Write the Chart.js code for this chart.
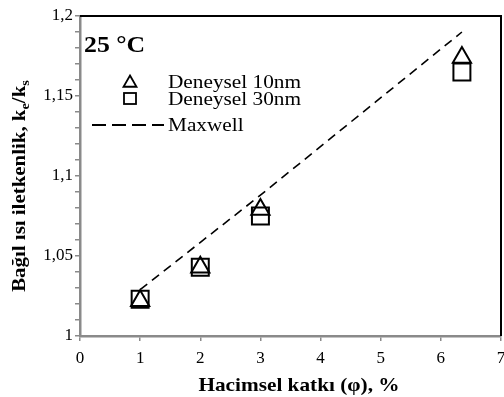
<!DOCTYPE html>
<html><head><meta charset="utf-8">
<script src="https://cdn.jsdelivr.net/npm/chart.js@4/dist/chart.umd.min.js"></script>
<style>html,body{margin:0;padding:0;background:#fff}#wrap{width:504px;height:397px}</style>
</head><body><div id="wrap"><canvas id="c"></canvas></div>
<script>
const xTickLabels = ['0','1','2','3','4','5','6','7'];
const yTickLabels = ['1','1,05','1,1','1,15','1,2'];
const phi10 = [1, 2, 3, 6.35];
const k10 = [1.022, 1.043, 1.079, 1.174];
const phi30 = [1, 2, 3, 6.35];
const k30 = [1.023, 1.043, 1.075, 1.165];
const phiMax = [1, 3, 6.35];
const kMax = [1.029, 1.088, 1.19];
const seriesNames = ['Deneysel 10nm', 'Deneysel 30nm', 'Maxwell'];
const panelLabel = '25 °C';

const FONT = '"Liberation Serif","Times New Roman",serif';
const AXIS = '#8a8a8a';
const SX = 1.12;
const pts = (xs, ys) => xs.map((x, i) => ({x, y: ys[i]}));

function stretchText(ctx, txt, x, y, align) {
  const w = ctx.measureText(txt).width * SX;
  let x0 = x;
  if (align === 'center') x0 = x - w / 2;
  ctx.save();
  ctx.translate(x0, y);
  ctx.scale(SX, 1);
  ctx.textAlign = 'left';
  ctx.fillText(txt, 0, 0);
  ctx.restore();
}

const overlay = {
  id: 'overlay',
  afterDraw(chart) {
    const ctx = chart.ctx, a = chart.chartArea;
    ctx.save();
    ctx.strokeStyle = '#000'; ctx.lineWidth = 2;
    ctx.beginPath();
    ctx.moveTo(a.left, a.top); ctx.lineTo(a.right, a.top); ctx.lineTo(a.right, a.bottom);
    ctx.stroke();
    ctx.fillStyle = '#000';
    ctx.textBaseline = 'alphabetic';
    ctx.font = 'bold 23px ' + FONT;
    stretchText(ctx, panelLabel, 84, 52, 'left');
    ctx.font = '19px ' + FONT;
    ctx.lineWidth = 1.8;
    const mx = 130;
    const r = 7.5, ty = 83;
    ctx.beginPath();
    ctx.moveTo(mx, ty - r);
    ctx.lineTo(mx + r * Math.sin(2*Math.PI/3), ty - r * Math.cos(2*Math.PI/3));
    ctx.lineTo(mx - r * Math.sin(2*Math.PI/3), ty - r * Math.cos(2*Math.PI/3));
    ctx.closePath(); ctx.stroke();
    ctx.strokeRect(mx - 6, 93, 12, 11);
    ctx.setLineDash([14, 6]);
    ctx.beginPath(); ctx.moveTo(92, 125); ctx.lineTo(164, 125); ctx.stroke();
    ctx.setLineDash([]);
    stretchText(ctx, seriesNames[0], 168, 88, 'left');
    stretchText(ctx, seriesNames[1], 168, 105, 'left');
    stretchText(ctx, seriesNames[2], 168, 131, 'left');
    ctx.font = 'bold 19px ' + FONT;
    stretchText(ctx, 'Hacimsel katkı (φ), %', 299, 391, 'center');
    const parts = [
      ['Bağıl ısı iletkenlik, k', 'bold 19px ' + FONT, 0],
      ['e', 'bold 13px ' + FONT, 4],
      ['/k', 'bold 19px ' + FONT, 0],
      ['s', 'bold 13px ' + FONT, 4]
    ];
    let total = 0;
    parts.forEach(p => { ctx.font = p[1]; p.push(ctx.measureText(p[0]).width); total += p[3]; });
    ctx.translate(25, 186);
    ctx.rotate(-Math.PI / 2);
    ctx.scale(1.1, 1);
    let x = -total / 2;
    parts.forEach(p => { ctx.font = p[1]; ctx.fillText(p[0], x, p[2]); x += p[3]; });
    ctx.restore();
  }
};

new Chart(document.getElementById('c'), {
  type: 'scatter',
  data: {
    datasets: [
      { label: seriesNames[2], type: 'line', data: pts(phiMax, kMax), borderColor: '#000', borderWidth: 1.6,
        borderDash: [9, 6], pointRadius: 0, fill: false, tension: 0 },
      { label: seriesNames[0], data: pts(phi10, k10), pointStyle: 'triangle', pointRadius: 10.5,
        pointBorderColor: '#000', pointBackgroundColor: 'rgba(0,0,0,0)', pointBorderWidth: 2 },
      { label: seriesNames[1], data: pts(phi30, k30), pointStyle: 'rect', pointRadius: 12,
        pointBorderColor: '#000', pointBackgroundColor: 'rgba(0,0,0,0)', pointBorderWidth: 2 }
    ]
  },
  options: {
    responsive: true, maintainAspectRatio: false, animation: false,
    layout: { autoPadding: false, padding: { left: 0, right: 3, top: 16, bottom: 0 } },
    plugins: { legend: { display: false }, tooltip: { enabled: false } },
    scales: {
      x: {
        type: 'linear', min: 0, max: 7,
        afterFit: s => { s.height = 61; s.paddingLeft = 0; s.paddingRight = 0; },
        border: { color: AXIS, width: 2.5 },
        grid: { drawOnChartArea: false, drawTicks: true, tickLength: 5, color: AXIS, lineWidth: 1.5 },
        ticks: { stepSize: 1, color: '#000', padding: 7, font: { family: FONT, size: 17 },
          callback: v => xTickLabels[v] !== undefined ? xTickLabels[v] : '' }
      },
      y: {
        type: 'linear', min: 1, max: 1.2,
        afterFit: s => { s.width = 80; s.paddingTop = 0; s.paddingBottom = 0; },
        border: { color: AXIS, width: 2.5 },
        grid: { drawOnChartArea: false, drawTicks: true, tickLength: 5, color: AXIS, lineWidth: 1.5 },
        ticks: { stepSize: 0.01, autoSkip: false, color: '#000', padding: 2, font: { family: FONT, size: 17 },
          callback: v => { const i = Math.round((v - 1) * 100); return i % 5 === 0 ? yTickLabels[i / 5] : ''; } }
      }
    }
  },
  plugins: [overlay]
});
</script></body></html>
